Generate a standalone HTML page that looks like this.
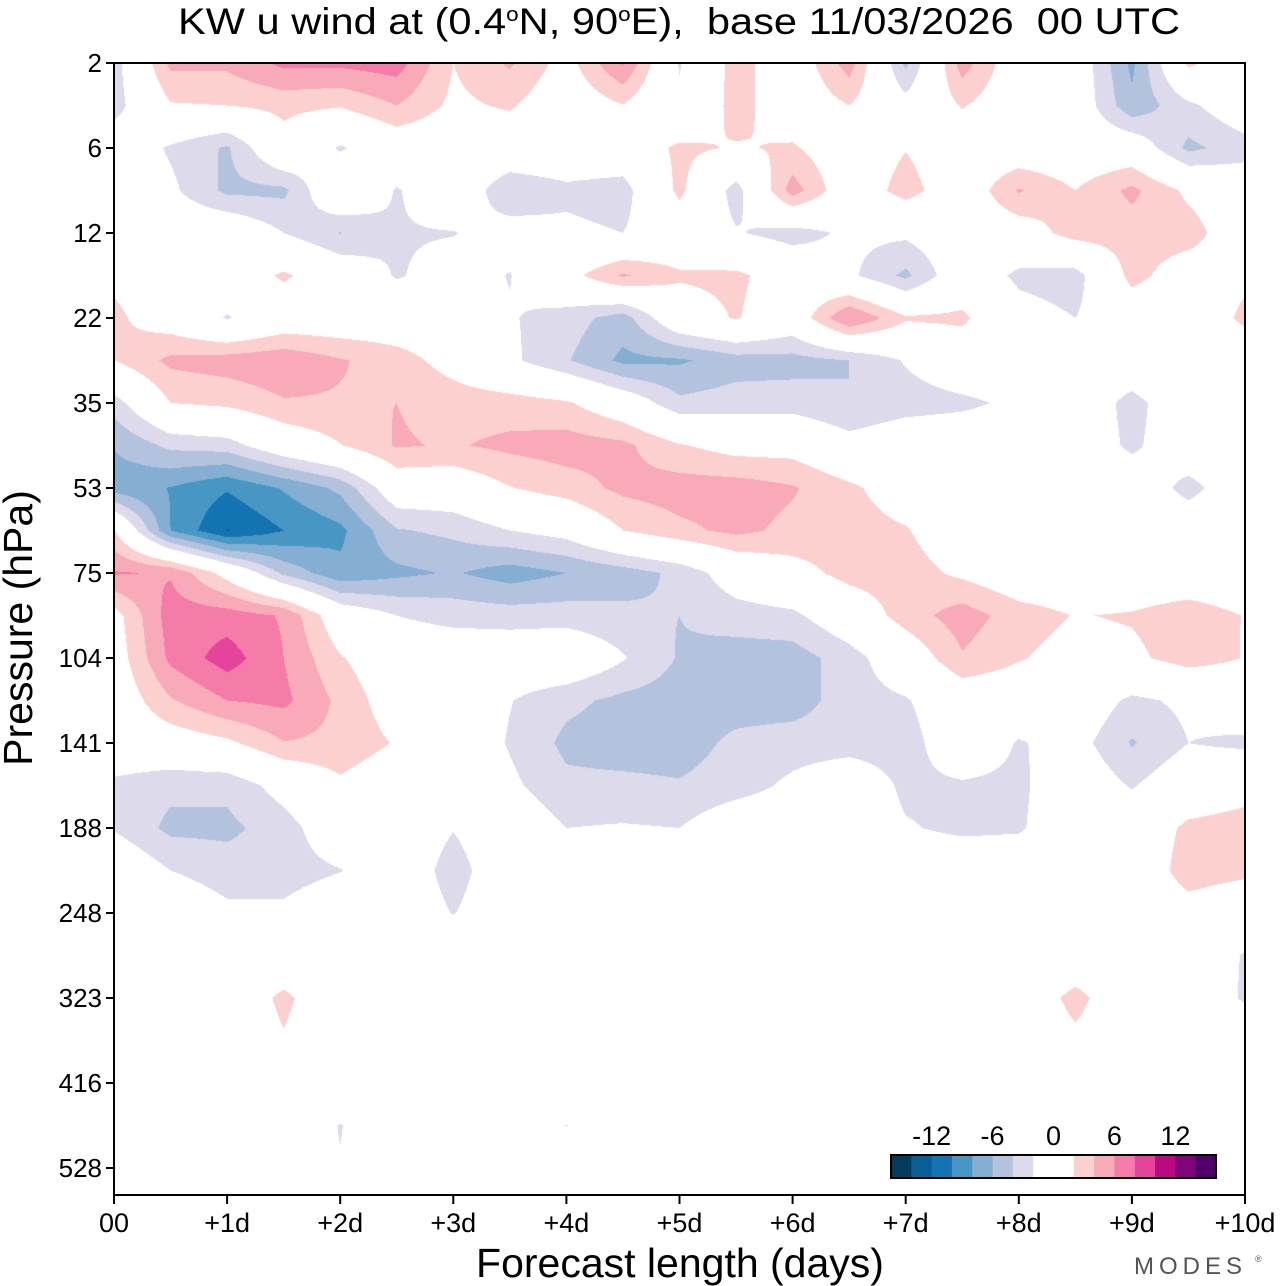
<!DOCTYPE html>
<html><head><meta charset="utf-8"><style>
html,body{margin:0;padding:0;background:#fff;}
#wrap{position:relative;width:1280px;height:1286px;overflow:hidden;font-family:"Liberation Sans",Arial,sans-serif;}
#field{position:absolute;left:114px;top:63px;}
#ov{position:absolute;left:0;top:0;}
</style></head><body>
<div id="wrap">
<canvas id="field" width="1131" height="1132"></canvas>
<svg id="ov" width="1280" height="1286"></svg>
</div>
<script>
// ---- data ----
const days = [0,0.5,1,1.5,2,2.5,3,3.5,4,4.5,5,5.5,6,6.5,7,7.5,8,8.5,9,9.5,10];
const pressureTicks = [2,6,12,22,35,53,75,104,141,188,248,323,416,528];
const dayTickLabels = ["00","+1d","+2d","+3d","+4d","+5d","+6d","+7d","+8d","+9d","+10d"];
// row index r is in units of half a pressure tick (level index = r/2)
const rowLevelIdx = [0,0.5,1,1.5,2,2.5,3,3.5,4,4.5,5,5.5,6,6.5,7,7.5,8,8.5,9,9.5,10,10.5,11,11.5,12,12.5,13,13.5];
const contourLevels = [-14,-12,-10,-8,-6,-4,-2,2,4,6,8,10,12,14];
const contourColors = ["#073b5c","#075f96","#1474b2","#4896c4","#84aed2","#b3c3de","#dcdaeb","#ffffff","#fbd0ce","#f8aab8","#f57ba8","#e5449c","#bb0a81","#7e0679","#4f006b"];
const colorbarLabels = ["-12","-6","0","6","12"];
const colorbarLabelValues = [-12,-6,0,6,12];
const uWind = [
[-3,4.5,4.5,6.5,6.5,7,2,4.3,1,6.2,-2.2,3,0,5,-4.5,5,0,0,-6.5,2.5,0],
[-3,1.8,2,2.6,2.2,4,1.5,2.3,0,1.9,-1.5,3,0,2,-1,2.2,0,0,-5.5,-2.5,0],
[0,-2.3,-4.3,1,-2.3,0,0,0,0,0,2.5,1.8,2.3,0,1.9,0,0,0,0,-4.5,-3],
[0,-1.5,-4.5,-4.5,1,-2.2,0,-3.5,-2.5,-3,2.6,-3,5,0,3,0,4.2,2,4.5,1.5,0],
[0,0,0.5,-2,-4.1,-2.2,-2.1,-1,-1.5,-2,0,-1.8,-3,-1.5,-1.5,0,0.5,3,3,3,0],
[1.5,0,0,2.4,0,-2.2,-1,-2.1,1,4.3,2.3,2.5,0.5,-1.5,-4.5,0,-2.5,-3,2.8,0.5,1.5],
[2.5,0.5,-2.2,0,0,0,0,-1.8,-3,-5,0.5,2.2,0,6.1,2.3,2.5,-1,-2,0,0,2.5],
[2,4.5,5,5.5,4.2,3,1,-1.5,-3.8,-6.5,-6.3,-5,-4.8,-4,-1.8,0,0,0,0,1.5,0],
[-3,2,2.5,3.8,3.8,4,3.2,3,2.3,0,-3.5,-3,-3,-4,-3,-2.5,-1.5,0,-2.8,0,0],
[-5.9,-3.5,-3,0,1.9,4.2,3.8,4.5,5,4.5,2.2,1,1,-1,0,0,0,0,-2.5,0,0],
[-7,-8.1,-9.8,-7.8,-5.5,0,0,1.9,3,4.5,5,5,4.2,2.5,0.5,0,0,0,0,-2.8,0],
[2.2,-8,-12.1,-10,-8.5,-4.2,-3.5,-2,-1,2,3.5,4.5,3.5,3,2.2,0,0,0,0,0,0],
[6.2,5.8,1,-4.5,-7.5,-6.5,-5.8,-7,-6,-5,-3.5,-0.5,1,2.8,3,1.5,0,0,0,0,0],
[1,7,7,5.8,0,-2,-2.8,-3,-3,-3.5,-4,-3,-2.5,0,3,5,3,1.9,2.2,3.2,1.9],
[0.5,6.5,9,6,2.2,0,0,0,0.5,-1.8,-4.2,-5,-5,-3,0,3.8,2.2,1,1.5,3,1.9],
[0,3.8,6,6.5,3.5,0.5,0,-1.9,-3.5,-4.5,-5,-5,-5,-3,-2.2,0,0,0,-2.5,-1.5,0],
[0,0.5,1.5,3.9,3.5,1.8,0,-2.2,-4.5,-5,-5,-3.5,-3,-3,-3,0,-2.2,-1,-4.2,-2,-2.5],
[-2.5,-3.5,-3.5,-1,1.5,0,0,-1.5,-3.5,-3.5,-3.8,-3,-1.5,0,-2.5,-2.3,-2.5,0,-2.2,0,1],
[-2.2,-4.5,-4.5,-3,0,0,-1.9,0,-2,-1.8,-2,0,0,0,-1.8,-2.5,-2.3,0,0,2.5,3],
[0.5,-2,-3,-3,-2.1,0,-3,0,0,0,0,0,0,0,0,0,0,0,0,3,2.5],
[0,0,-1.5,-1.5,0,0,-2.1,0,0,0,0,0,0,0,0,0,0,0,0,1,0],
[0,0,0,0,0,0,0,0,0,0,0,0,0,0,0,0,0,0,0,0,-2.2],
[0,0,0,2.5,0,0,0,0,0,0,0,0,0,0,0,0,0,2.7,0,0,-2.3],
[0,0,0,1.8,0,0,0,0,0,0,0,0,0,0,0,0,0,1.5,0,0,0],
[0,0,0,0,0,0,0,0,0,0,0,0,0,0,0,0,0,0,0,0,0],
[0,0,0,0,-2.1,0,0,0,-2.05,0,0,0,0,0,0,0,0,0,0,0,0],
[0,0,0,0,-1.9,0,0,0,0,0,0,0,0,0,0,0,0,0,0,0,0],
[0,0,0,0,0,0,0,0,0,0,0,0,0,0,0,0,0,0,0,0,0]
];
// ---- axes ----
const PL=114, PR=1245, PT=63, PB=1195;
const dayMax=10, levelStep=85;
function xScale(d){return PL+(PR-PL)*d/dayMax;}
function yScale(levelIdx){return PT+levelIdx*levelStep;}
function hexRgb(h){return [parseInt(h.substr(1,2),16),parseInt(h.substr(3,2),16),parseInt(h.substr(5,2),16)];}

// ---- field ----
(function(){
  const cv=document.getElementById('field');const ctx=cv.getContext('2d');
  const W=cv.width,H=cv.height;const img=ctx.createImageData(W,H);
  const colX=days.map(xScale), rowY=rowLevelIdx.map(yScale);
  const rgb=contourColors.map(hexRgb);
  function interpIdx(arr,v){let i=0;while(i<arr.length-2&&arr[i+1]<v)i++;let t=(v-arr[i])/(arr[i+1]-arr[i]);return [i,Math.max(0,Math.min(1,t))];}
  for(let py=0;py<H;py++){
    const [r,ty]=interpIdx(rowY,PT+py+0.5);
    for(let px=0;px<W;px++){
      const [c,tx]=interpIdx(colX,PL+px+0.5);
      const v=(uWind[r][c]*(1-tx)+uWind[r][c+1]*tx)*(1-ty)+(uWind[r+1][c]*(1-tx)+uWind[r+1][c+1]*tx)*ty;
      let k=0;while(k<contourLevels.length&&v>=contourLevels[k])k++;
      const o=(py*W+px)*4;const col=rgb[k];
      img.data[o]=col[0];img.data[o+1]=col[1];img.data[o+2]=col[2];img.data[o+3]=255;
    }
  }
  ctx.putImageData(img,0,0);
})();

// ---- overlay ----
const NS='http://www.w3.org/2000/svg';
const svg=document.getElementById('ov');
function mk(tag,attrs,parent){const e=document.createElementNS(NS,tag);for(const k in attrs)e.setAttribute(k,attrs[k]);(parent||svg).appendChild(e);return e;}

const frame=mk('rect',{x:PL,y:PT,width:PR-PL,height:PB-PT,fill:'none',stroke:'#000','stroke-width':2});



pressureTicks.forEach((p,i)=>{
  const y=yScale(i);
  const t=mk('line',{x1:PL-8,x2:PL,y1:y,y2:y,stroke:'#000','stroke-width':2});
  
  
  const lb=mk('text',{x:102,y:y+9,'text-anchor':'end','font-size':26,fill:'#000'});
  lb.textContent=p;
  
  
});
dayTickLabels.forEach((s,i)=>{
  const x=xScale(i);
  const t=mk('line',{x1:x,x2:x,y1:PB,y2:PB+9,stroke:'#000','stroke-width':2});
  
  
  const lb=mk('text',{x:x,y:1232,'text-anchor':'middle','font-size':27,fill:'#000'});
  lb.textContent=s;
  
  
});

const title=mk('text',{x:178,y:34,'font-size':37,fill:'#000',textLength:1002,lengthAdjust:'spacingAndGlyphs'});


title.innerHTML='KW u wind at (0.4<tspan dy="-13" font-size="20">o</tspan><tspan dy="13">N, 90</tspan><tspan dy="-13" font-size="20">o</tspan><tspan dy="13" xml:space="preserve">E),  base 11/03/2026  00 UTC</tspan>';

const xt=mk('text',{x:680,y:1277,'text-anchor':'middle','font-size':41,fill:'#000'});
xt.textContent='Forecast length (days)';



const yt=mk('text',{x:0,y:0,'text-anchor':'middle','font-size':41,fill:'#000',transform:'translate(32,628) rotate(-90)'});
yt.textContent='Pressure (hPa)';



const logo=mk('text',{x:1134,y:1274,'font-size':24,fill:'#555','letter-spacing':'5'});
logo.textContent='MODES';


const reg=mk('text',{x:1255,y:1262,'font-size':9,fill:'#555'});
reg.textContent='®';



// colorbar
const cbX0=891, cbX1=1216, cbY=1155, cbH=23;
const vMin=-16, vMax=16;
function cbScale(v){return cbX0+(v-vMin)/(vMax-vMin)*(cbX1-cbX0);}
const bounds=[vMin].concat(contourLevels,[vMax]);
for(let i=0;i<contourColors.length;i++){
  const b=mk('rect',{x:cbScale(bounds[i]),y:cbY,width:cbScale(bounds[i+1])-cbScale(bounds[i])+0.5,height:cbH,fill:contourColors[i]});
  
  
}
const cbf=mk('rect',{x:cbX0,y:cbY,width:cbX1-cbX0,height:cbH,fill:'none',stroke:'#000','stroke-width':2});


colorbarLabels.forEach((s,i)=>{
  const lb=mk('text',{x:cbScale(colorbarLabelValues[i]),y:1145,'text-anchor':'middle','font-size':27,fill:'#000'});
  lb.textContent=s;
  
  
});
</script>
</body></html>
